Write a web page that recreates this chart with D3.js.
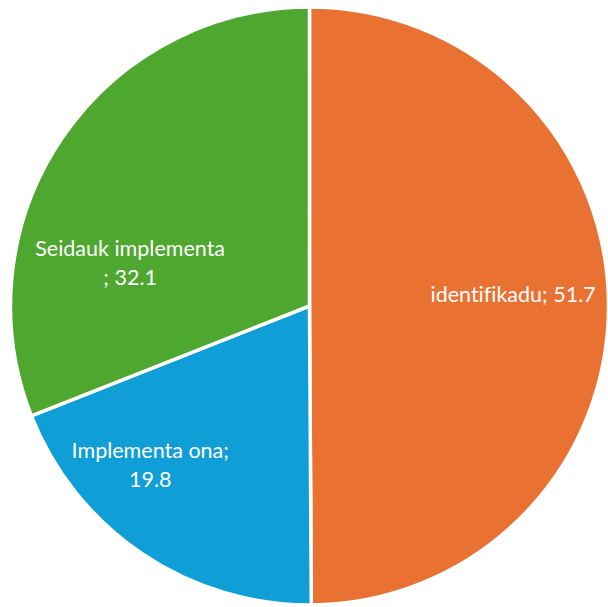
<!DOCTYPE html>
<html><head><meta charset="utf-8">
<script src="https://cdn.jsdelivr.net/npm/d3@7"></script>
<style>html,body{margin:0;padding:0;background:#fff;}svg{display:block;}</style>
</head><body>
<svg id="chart" width="608" height="607"></svg>
<script>
const categories = ["identifikadu", "Implementa ona", "Seidauk implementa"];
const values = [51.7, 19.8, 32.1];
const labelLines = [["identifikadu; 51.7"], ["Implementa ona;", "19.8"], ["Seidauk implementa", "; 32.1"]];
const colors = ["#E97132", "#0F9ED5", "#4EA72E"];

const W = 608, H = 607;
const cx = 309.5, cy = 306, R = 299;
// label anchor: [angle in degrees clockwise from top, fraction of radius]
const labelAnchor = [[86.8, 0.682], [225.1, 0.752], [283.5, 0.617]];

const svg = d3.select("#chart");
const g = svg.append("g").attr("transform", `translate(${cx},${cy})`);

const pie = d3.pie().sort(null).value(d => d.v);
const data = categories.map((c, i) => ({c, v: values[i], i}));
const arcs = pie(data);
const arc = d3.arc().innerRadius(0).outerRadius(R);

g.selectAll("path").data(arcs).join("path")
  .attr("d", arc)
  .attr("fill", d => colors[d.data.i])
  .attr("stroke", "#fff")
  .attr("stroke-width", 3.5)
  .attr("stroke-linejoin", "round");

const fontSize = 21.5, lineH = 29;
arcs.forEach((d, i) => {
  const [deg, f] = labelAnchor[i];
  const a = deg * Math.PI / 180;
  const x = Math.sin(a) * R * f, y = -Math.cos(a) * R * f;
  const lines = labelLines[i];
  const t = g.append("text")
    .attr("text-anchor", "middle")
    .attr("font-family", "Lato, 'Open Sans', sans-serif")
    .attr("font-size", fontSize)
    .style("font-variant-ligatures", "none")
    .attr("fill", "#fff");
  lines.forEach((ln, k) => {
    t.append("tspan").attr("x", x)
      .attr("y", y + (k - (lines.length - 1) / 2) * lineH)
      .attr("dy", "0.35em")
      .text(ln);
  });
});
</script>
</body></html>
